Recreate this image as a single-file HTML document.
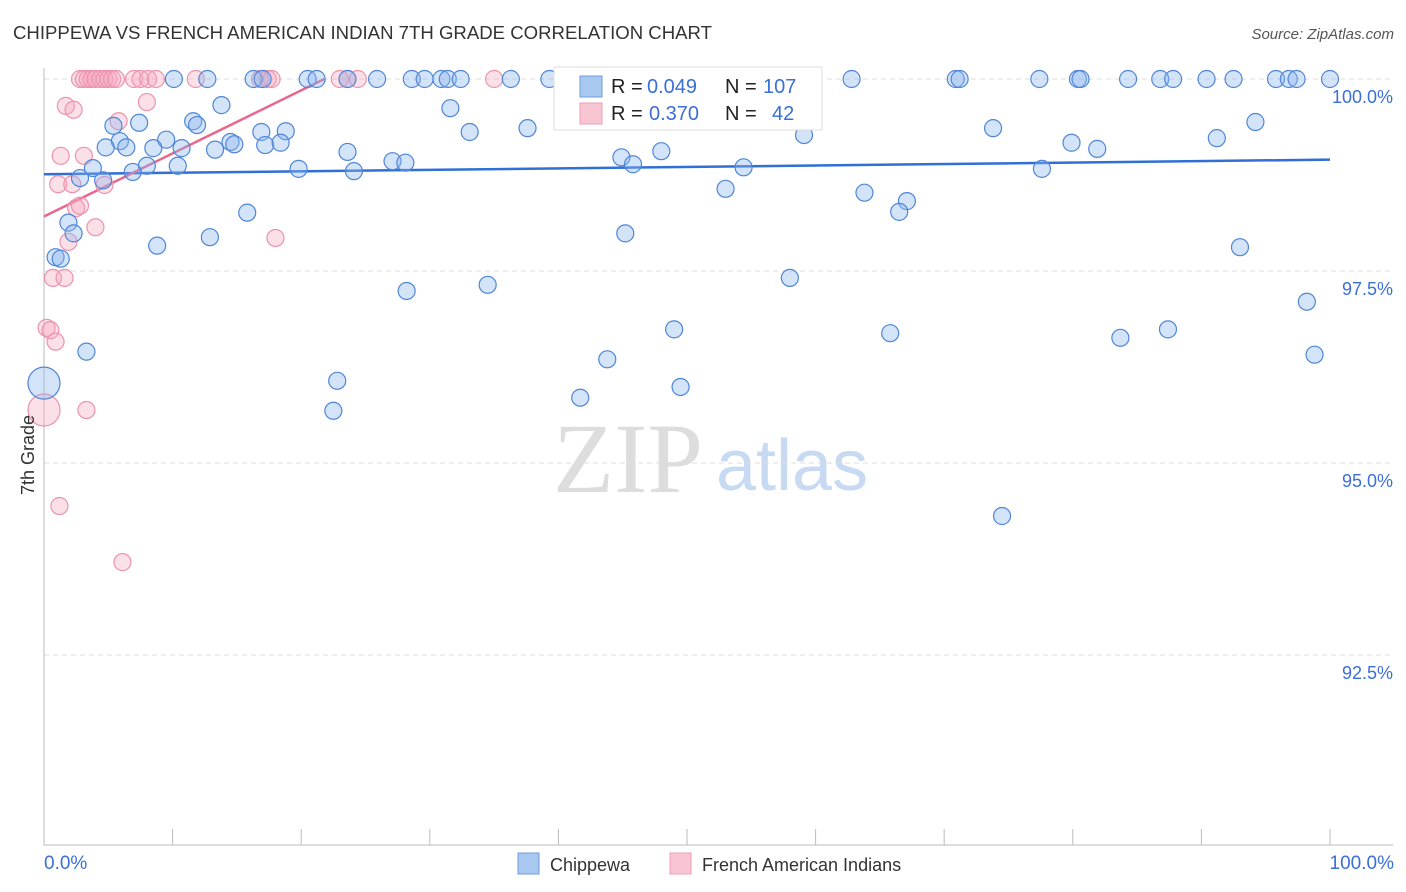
<!DOCTYPE html>
<html><head><meta charset="utf-8"><style>
body{margin:0;background:#fff;font-family:"Liberation Sans",sans-serif}
svg{display:block}
</style></head><body>
<svg id="chart" width="1406" height="892" viewBox="0 0 1406 892">
<text x="13" y="39" font-size="18.5" fill="#333" textLength="699" lengthAdjust="spacingAndGlyphs">CHIPPEWA VS FRENCH AMERICAN INDIAN 7TH GRADE CORRELATION CHART</text>
<text x="1394" y="39" font-size="15" fill="#555" font-style="italic" text-anchor="end">Source: ZipAtlas.com</text>
<g>
<text x="553" y="492" font-size="100" fill="#ddd" font-family="Liberation Serif,serif">ZIP</text>
<text x="716" y="490" font-size="72" fill="#c8daf2">atlas</text>
</g>
<g id="grid"></g>
<g id="axes"></g>
<g id="trends"></g>
<g id="pts"></g>
<text transform="translate(34,455) rotate(-90)" font-size="18" fill="#333" text-anchor="middle">7th Grade</text>
<text x="44" y="869" font-size="19" fill="#3a6fd8">0.0%</text>
<text x="1394" y="869" font-size="19" fill="#3a6fd8" text-anchor="end">100.0%</text>
<g>
<rect x="554" y="67" width="268" height="63" fill="#fff" stroke="#ddd"/>
<rect x="580" y="76" width="22" height="21" fill="#a9c8f0" stroke="#6f9de0"/>
<rect x="580" y="103" width="22" height="21" fill="#f8c5d2" stroke="#ee9fb5"/>
<text x="611" y="93" font-size="20" fill="#222">R =</text>
<text x="647" y="93" font-size="20" fill="#3a6fd8">0.049</text>
<text x="725" y="93" font-size="20" fill="#222">N =</text>
<text x="763" y="93" font-size="20" fill="#3a6fd8">107</text>
<text x="611" y="120" font-size="20" fill="#222">R =</text>
<text x="649" y="120" font-size="20" fill="#3a6fd8">0.370</text>
<text x="725" y="120" font-size="20" fill="#222">N =</text>
<text x="772" y="120" font-size="20" fill="#3a6fd8">42</text>
</g>
<g>
<rect x="518" y="853" width="21" height="21" fill="#a9c8f0" stroke="#6f9de0"/>
<text x="550" y="871" font-size="18" fill="#333">Chippewa</text>
</g>
<g>
<rect x="670" y="853" width="21" height="21" fill="#f8c5d2" stroke="#ee9fb5"/>
<text x="702" y="871" font-size="18" fill="#333">French American Indians</text>
</g>
</svg>
<script>
const yTicks=[100,97.5,95,92.5];
const yTickLabels=["100.0%","97.5%","95.0%","92.5%"];
const blueTopX=[10.1,12.7,16.3,17.0,20.5,21.2,23.6,25.9,28.6,29.6,30.9,31.4,32.4,36.3,39.3,46.3,51.7,55.9,62.8,70.9,71.2,77.4,80.4,80.6,84.3,86.8,87.8,90.4,92.5,95.8,96.8,97.4,100];
const blueX=[13.8,31.6,5.4,7.4,11.6,11.9,16.9,18.8,33.1,37.6,73.8,94.2,59.1,9.5,5.9,6.4,4.8,8.5,10.7,14.5,14.8,13.3,17.2,18.4,79.9,81.9,91.2,23.6,48.0,44.9,45.8,27.1,28.1,54.4,3.8,8.0,10.4,19.8,24.1,6.9,2.8,4.6,77.6,53.0,63.8,67.1,66.5,15.8,1.9,2.3,12.9,8.8,45.2,93.0,0.9,1.3,58.0,34.5,28.2,98.2,49.0,65.8,87.4,83.7,3.3,43.8,98.8,22.8,49.5,0,41.7,22.5,74.5];
const blueY=[99.66,99.62,99.39,99.43,99.45,99.40,99.31,99.32,99.31,99.36,99.36,99.44,99.27,99.21,99.19,99.11,99.11,99.10,99.10,99.18,99.15,99.08,99.14,99.17,99.17,99.09,99.23,99.05,99.06,98.98,98.89,98.93,98.91,98.85,98.84,98.87,98.87,98.83,98.80,98.79,98.71,98.68,98.83,98.57,98.52,98.41,98.27,98.26,98.13,97.99,97.94,97.83,97.99,97.81,97.68,97.66,97.41,97.32,97.24,97.10,96.74,96.69,96.74,96.63,96.45,96.35,96.41,96.07,95.99,96.04,95.85,95.68,94.31];
const pinkTopX=[2.8,3.1,3.4,3.7,4.0,4.4,4.7,5.0,5.3,5.6,7.0,7.5,8.1,8.7,11.8,16.8,17.4,17.7,23.0,23.6,24.4,35.0];
const pinkX=[1.7,2.3,8.0,5.8,1.3,3.1,1.1,2.2,4.7,2.5,2.8,4.0,1.9,18.0,0.7,1.6,0.2,0.5,0.9,0,3.3,1.2,6.1];
const pinkY=[99.65,99.60,99.70,99.45,99.00,99.00,98.63,98.63,98.62,98.32,98.35,98.07,97.88,97.93,97.41,97.41,96.76,96.73,96.58,95.69,95.69,94.44,93.71];
const blueTrendX=[0,100], blueTrendY=[98.76,98.95];
const pinkTrendX=[0,21.8], pinkTrendY=[98.21,100];
const X0=44,X1=1330,Y100=79,PX_PER_UNIT=76.8;
const xs=v=>X0+v/100*(X1-X0);
const ys=v=>Y100+(100-v)*PX_PER_UNIT;
const NS="http://www.w3.org/2000/svg";
function mk(tag,attrs,parent){const e=document.createElementNS(NS,tag);for(const k in attrs)e.setAttribute(k,attrs[k]);parent.appendChild(e);return e;}
const grid=document.getElementById('grid');
yTicks.forEach((t,i)=>{
 const l=mk('line',{x1:44,x2:1393,y1:ys(t),y2:ys(t),stroke:'#ddd','stroke-dasharray':'5,4'},grid);
 
 
 const tx=mk('text',{x:1393,y:ys(t)+24,'font-size':18,fill:'#3a6fd8','text-anchor':'end'},grid);
 tx.textContent=yTickLabels[i];
 
 
});
const axes=document.getElementById('axes');
const ya=mk('line',{x1:44,x2:44,y1:68,y2:845,stroke:'#bbb'},axes);


const xa=mk('line',{x1:44,x2:1393,y1:845,y2:845,stroke:'#bbb'},axes);


for(let i=0;i<=10;i++){const t=mk('line',{x1:xs(i*10),x2:xs(i*10),y1:829,y2:845,stroke:'#bbb'},axes);
 
 }
const pts=document.getElementById('pts');
function dot(x,y,r,fill,stroke,name){const c=mk('circle',{cx:xs(x),cy:ys(y),r:r,fill:fill,stroke:stroke,'stroke-width':1.2},pts);
 
 }
const PF='rgba(246,165,188,0.35)',PS='#ec93ad',BF='rgba(140,182,236,0.38)',BS='#4f86d8';
pinkTopX.forEach(x=>dot(x,100,8.5,PF,PS,'french-american-point'));
pinkX.forEach((x,i)=>dot(x,pinkY[i],(x===0?16:8.5),PF,PS,'french-american-point'));
blueTopX.forEach(x=>dot(x,100,8.5,BF,BS,'chippewa-point'));
blueX.forEach((x,i)=>dot(x,blueY[i],(x===0?16:8.5),BF,BS,'chippewa-point'));
const tr=document.getElementById('trends');
const bl=mk('line',{x1:xs(blueTrendX[0]),y1:ys(blueTrendY[0]),x2:xs(blueTrendX[1]),y2:ys(blueTrendY[1]),stroke:'#2f6fd6','stroke-width':2.5},tr);


const pl=mk('line',{x1:xs(pinkTrendX[0]),y1:ys(pinkTrendY[0]),x2:xs(pinkTrendX[1]),y2:ys(pinkTrendY[1]),stroke:'#e8678f','stroke-width':2.5},tr);


</script>
</body></html>
